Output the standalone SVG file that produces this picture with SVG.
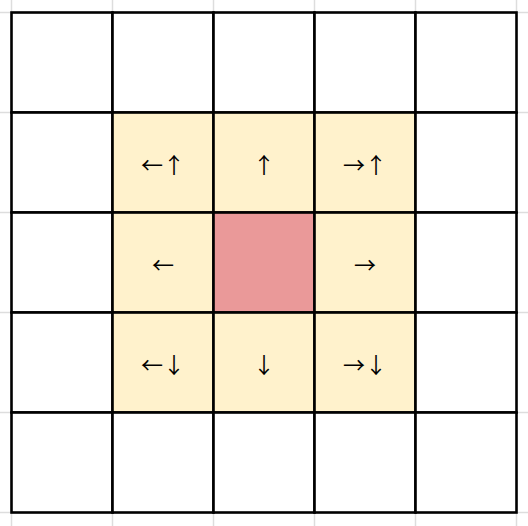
<svg xmlns="http://www.w3.org/2000/svg" width="528" height="526" viewBox="0 0 528 526">
<style>
.bg{stroke:#dddddd;stroke-width:1.5;fill:none}
.cell{stroke:#000;stroke-width:2.6}
.w{fill:#ffffff}
.y{fill:#fff2cc}
.r{fill:#ea9999}
.t{font-family:"Noto Sans CJK SC",sans-serif;font-size:22px;fill:#000;text-anchor:middle;dominant-baseline:central}
</style>
<rect width="528" height="526" fill="#ffffff"/>
<g id="bggrid">
<path class="bg" d="M11.5 0V526M112.5 0V526M213.5 0V526M314.5 0V526M415.5 0V526M516.5 0V526M0 12.5H528M0 112.5H528M0 212.5H528M0 312.5H528M0 412.5H528M0 512.5H528"/>
</g>
<g id="c00"><rect class="cell w" x="11.5" y="12.5" width="101" height="100"/></g>
<g id="c01"><rect class="cell w" x="112.5" y="12.5" width="101" height="100"/></g>
<g id="c02"><rect class="cell w" x="213.5" y="12.5" width="101" height="100"/></g>
<g id="c03"><rect class="cell w" x="314.5" y="12.5" width="101" height="100"/></g>
<g id="c04"><rect class="cell w" x="415.5" y="12.5" width="101" height="100"/></g>
<g id="c10"><rect class="cell w" x="11.5" y="112.5" width="101" height="100"/></g>
<g id="c11"><rect class="cell y" x="112.5" y="112.5" width="101" height="100"/><text class="t" x="163" y="162.5">←↑</text></g>
<g id="c12"><rect class="cell y" x="213.5" y="112.5" width="101" height="100"/><text class="t" x="264" y="162.5">↑</text></g>
<g id="c13"><rect class="cell y" x="314.5" y="112.5" width="101" height="100"/><text class="t" x="365" y="162.5">→↑</text></g>
<g id="c14"><rect class="cell w" x="415.5" y="112.5" width="101" height="100"/></g>
<g id="c20"><rect class="cell w" x="11.5" y="212.5" width="101" height="100"/></g>
<g id="c21"><rect class="cell y" x="112.5" y="212.5" width="101" height="100"/><text class="t" x="163" y="262.5">←</text></g>
<g id="c22"><rect class="cell r" x="213.5" y="212.5" width="101" height="100"/></g>
<g id="c23"><rect class="cell y" x="314.5" y="212.5" width="101" height="100"/><text class="t" x="365" y="262.5">→</text></g>
<g id="c24"><rect class="cell w" x="415.5" y="212.5" width="101" height="100"/></g>
<g id="c30"><rect class="cell w" x="11.5" y="312.5" width="101" height="100"/></g>
<g id="c31"><rect class="cell y" x="112.5" y="312.5" width="101" height="100"/><text class="t" x="163" y="362.5">←↓</text></g>
<g id="c32"><rect class="cell y" x="213.5" y="312.5" width="101" height="100"/><text class="t" x="264" y="362.5">↓</text></g>
<g id="c33"><rect class="cell y" x="314.5" y="312.5" width="101" height="100"/><text class="t" x="365" y="362.5">→↓</text></g>
<g id="c34"><rect class="cell w" x="415.5" y="312.5" width="101" height="100"/></g>
<g id="c40"><rect class="cell w" x="11.5" y="412.5" width="101" height="100"/></g>
<g id="c41"><rect class="cell w" x="112.5" y="412.5" width="101" height="100"/></g>
<g id="c42"><rect class="cell w" x="213.5" y="412.5" width="101" height="100"/></g>
<g id="c43"><rect class="cell w" x="314.5" y="412.5" width="101" height="100"/></g>
<g id="c44"><rect class="cell w" x="415.5" y="412.5" width="101" height="100"/></g>
</svg>
